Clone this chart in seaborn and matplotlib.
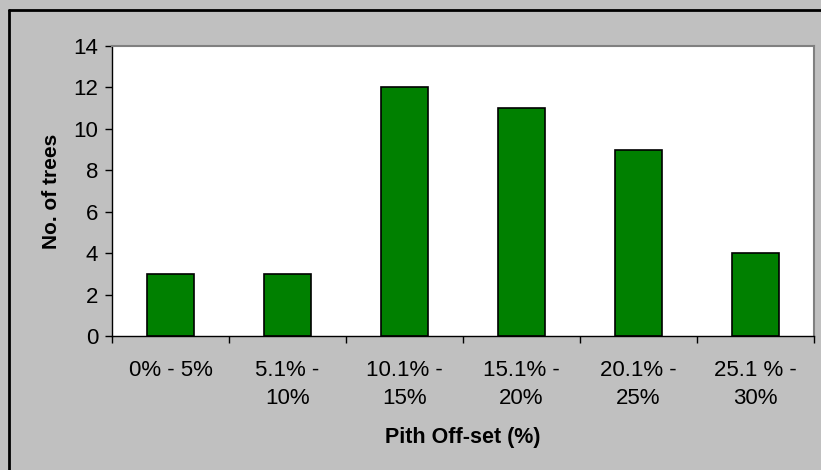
import matplotlib
matplotlib.use('Agg')
import matplotlib.pyplot as plt
from matplotlib.lines import Line2D
import pandas as pd
import seaborn as sns

# data
categories = ['0% - 5%', '5.1% -\n10%', '10.1% -\n15%', '15.1% -\n20%', '20.1% -\n25%', '25.1 % -\n30%']
n_trees = [3, 3, 12, 11, 9, 4]

df = pd.DataFrame({'range': categories, 'trees': n_trees})

sns.set_style('white')
plt.rcParams['font.family'] = ['Liberation Sans', 'DejaVu Sans']
plt.rcParams['text.color'] = 'black'
plt.rcParams['axes.labelcolor'] = 'black'
plt.rcParams['xtick.color'] = 'black'
plt.rcParams['ytick.color'] = 'black'

fig = plt.figure(figsize=(8.21, 4.70), dpi=100, facecolor='#C0C0C0')
ax = fig.add_axes([112/821, 1-336/470, (814-112)/821, (336-46)/470])
ax.set_facecolor('white')

sns.barplot(data=df, x='range', y='trees', color='#008000', width=0.41,
            edgecolor='black', linewidth=1.2, saturation=1, ax=ax)

ax.set_xlim(-0.5, 5.5)
ax.set_ylim(0, 14)
ax.set_yticks(range(0, 15, 2))
ax.set_xticks(range(6))
ax.set_xticklabels(categories, fontsize=16, linespacing=1.45)
ax.tick_params(axis='x', length=0, pad=17)
ax.tick_params(axis='y', labelsize=16, length=5, width=1, direction='out', left=True, pad=5)
# category boundary ticks
ax.set_xticks([i - 0.5 for i in range(7)], minor=True)
ax.tick_params(axis='x', which='minor', length=5, width=1, direction='out', bottom=True)

for side in ['top', 'right']:
    ax.spines[side].set_color('#808080')
    ax.spines[side].set_linewidth(1.5)
for side in ['left', 'bottom']:
    ax.spines[side].set_color('black')
    ax.spines[side].set_linewidth(1)

ax.set_xlabel('Pith Off-set (%)', fontsize=15.5, fontweight='bold', labelpad=13)
ax.set_ylabel('No. of trees', fontsize=15, fontweight='bold', labelpad=9)

# outer chart border
fig.add_artist(Line2D([9/821, 1], [1-10/470, 1-10/470], color='black', lw=2, transform=fig.transFigure))
fig.add_artist(Line2D([9/821, 9/821], [0, 1-10/470], color='black', lw=2, transform=fig.transFigure))

fig.savefig('out.png', dpi=100, facecolor=fig.get_facecolor())
